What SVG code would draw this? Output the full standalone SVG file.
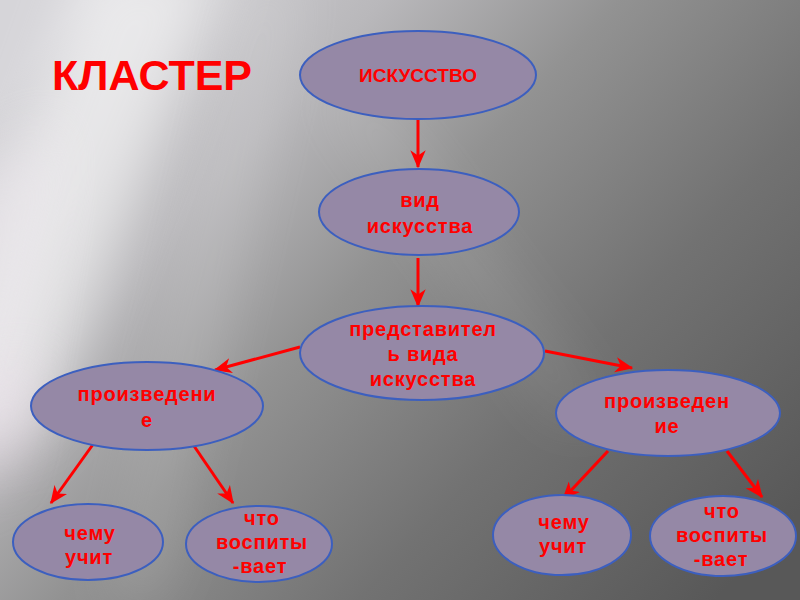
<svg xmlns="http://www.w3.org/2000/svg" width="800" height="600" viewBox="0 0 800 600">
<defs>
<linearGradient id="bg" x1="0" y1="0.15" x2="1" y2="0.85">
<stop offset="0" stop-color="#d6d5d9"/>
<stop offset="0.25" stop-color="#b9b8bb"/>
<stop offset="0.45" stop-color="#929292"/>
<stop offset="0.7" stop-color="#727272"/>
<stop offset="1" stop-color="#585858"/>
</linearGradient>
<filter id="blur" x="-50%" y="-50%" width="200%" height="200%"><feGaussianBlur stdDeviation="28"/></filter>
<marker id="ah" viewBox="0 0 14 12" refX="13" refY="6" markerWidth="18" markerHeight="16" markerUnits="userSpaceOnUse" orient="auto">
<path d="M0,0 L14,6 L0,12 L4,6 Z" fill="#ff0000"/>
</marker>
<style>
.n{fill:#9588a6;stroke:#3c5fbf;stroke-width:2}
.t{font-family:"Liberation Sans",Arial,sans-serif;font-weight:bold;font-size:20px;fill:#ff0000;text-anchor:middle;letter-spacing:0.8px}
.c{stroke:#ff0000;stroke-width:3;fill:none;marker-end:url(#ah)}
</style>
</defs>
<rect width="800" height="600" fill="url(#bg)"/>
<g>
<polygon points="90,-40 230,-40 40,440 -80,440" fill="#ffffff" filter="url(#blur)" opacity="0.55"/>
<polygon points="-60,200 60,120 0,480 -60,500" fill="#f6f0f6" filter="url(#blur)" opacity="0.45"/>
<polygon points="-20,380 40,360 20,470 -20,480" fill="#e8d8e6" filter="url(#blur)" opacity="0.4"/>
<polygon points="250,-20 300,-20 160,600 110,600" fill="#ffffff" filter="url(#blur)" opacity="0.15"/>
<polygon points="320,90 370,90 610,420 560,420" fill="#ffffff" filter="url(#blur)" opacity="0.1"/>
</g>
<text x="52" y="90" font-family="Liberation Sans, Arial, sans-serif" font-weight="bold" font-size="43" fill="#ff0000">КЛАСТЕР</text>
<g id="connectors">
<line class="c" x1="418" y1="119" x2="418" y2="167"/>
<line class="c" x1="418" y1="258" x2="418" y2="306"/>
<line class="c" x1="300" y1="347" x2="215" y2="370"/>
<line class="c" x1="545" y1="351" x2="632" y2="368"/>
<line class="c" x1="94" y1="443" x2="51" y2="503"/>
<line class="c" x1="194" y1="446" x2="233" y2="503"/>
<line class="c" x1="608" y1="451" x2="563" y2="499"/>
<line class="c" x1="727" y1="451" x2="762" y2="497"/>
</g>
<g id="n-iskusstvo">
<ellipse class="n" cx="418" cy="75" rx="118" ry="44"/>
<text class="t" x="418" y="82" style="font-size:19px;letter-spacing:0">ИСКУССТВО</text>
</g>
<g id="n-vid">
<ellipse class="n" cx="419" cy="212" rx="100" ry="43"/>
<text class="t" x="420" y="207">вид</text>
<text class="t" x="420" y="233">искусства</text>
</g>
<g id="n-predstavitel">
<ellipse class="n" cx="422" cy="353" rx="122" ry="47"/>
<text class="t" x="423" y="336">представител</text>
<text class="t" x="423" y="361">ь вида</text>
<text class="t" x="423" y="386">искусства</text>
</g>
<g id="n-proizv-left">
<ellipse class="n" cx="147" cy="406" rx="116" ry="44"/>
<text class="t" x="147" y="401">произведени</text>
<text class="t" x="147" y="427">е</text>
</g>
<g id="n-proizv-right">
<ellipse class="n" cx="668" cy="413" rx="112" ry="43"/>
<text class="t" x="667" y="408">произведен</text>
<text class="t" x="667" y="433">ие</text>
</g>
<g id="n-chemu-left">
<ellipse class="n" cx="88" cy="542" rx="75" ry="38"/>
<text class="t" x="90" y="540">чему</text>
<text class="t" x="89" y="564">учит</text>
</g>
<g id="n-chto-left">
<ellipse class="n" cx="259" cy="544" rx="73" ry="38"/>
<text class="t" x="262" y="525">что</text>
<text class="t" x="262" y="549">воспиты</text>
<text class="t" x="260" y="573">-вает</text>
</g>
<g id="n-chemu-right">
<ellipse class="n" cx="562" cy="535" rx="69" ry="40"/>
<text class="t" x="564" y="529">чему</text>
<text class="t" x="563" y="553">учит</text>
</g>
<g id="n-chto-right">
<ellipse class="n" cx="723" cy="536" rx="73" ry="40"/>
<text class="t" x="722" y="518">что</text>
<text class="t" x="722" y="542">воспиты</text>
<text class="t" x="721" y="566">-вает</text>
</g>
</svg>
